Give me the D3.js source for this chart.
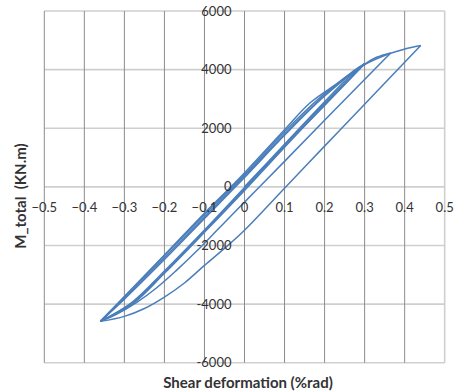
<!DOCTYPE html>
<html>
<head>
<meta charset="utf-8">
<script src="https://cdn.jsdelivr.net/npm/d3@7"></script>
<style>
  body { margin: 0; background: #fff; }
  text { font-family: Lato, "Liberation Sans", sans-serif; }
</style>
</head>
<body>
<div id="chart"></div>
<script>
// Tick labels
var xTicks = [-0.5, -0.4, -0.3, -0.2, -0.1, 0, 0.1, 0.2, 0.3, 0.4, 0.5];
var yTicks = [-6000, -4000, -2000, 0, 2000, 4000, 6000];

// Hysteresis branches, [shear deformation %rad, M_total kN.m]
var load0 = [[0, 0], [0.1, 1450], [0.2, 2900], [0.25, 3600], [0.30, 4200]];
var unload1 = [[0.30, 4200], [0.25, 3500], [0.2, 2800], [0.1, 1350], [0, -120], [-0.1, -1550], [-0.2, -2950], [-0.28, -4000], [-0.36, -4590]];
var load1 = [[-0.36, -4590], [-0.3, -3800], [-0.2, -2420], [-0.1, -1030], [0, 370], [0.1, 1800], [0.2, 3120], [0.25, 3700], [0.30, 4200]];
var unload2 = [[0.30, 4200], [0.2, 2850], [0.1, 1430], [0, -20], [-0.1, -1470], [-0.2, -2870], [-0.28, -3930], [-0.36, -4590]];
var load2 = [[-0.36, -4590], [-0.3, -3740], [-0.211, -2480], [-0.1, -900], [-0.016, 250], [0.1, 1950], [0.164, 2870], [0.239, 3600], [0.277, 4000], [0.30, 4200]];
var unload3 = [[0.30, 4200], [0.2, 2780], [0.1, 1380], [0, -70], [-0.1, -1510], [-0.2, -2920], [-0.28, -3960], [-0.36, -4590]];
var load3 = [[-0.36, -4590], [-0.3, -3830], [-0.2, -2480], [-0.1, -1080], [0, 320], [0.1, 1760], [0.2, 3100], [0.30, 4180], [0.33, 4420], [0.365, 4570]];
var unload4 = [[0.365, 4570], [0.2, 2270], [0.1, 870], [0.031, -90], [-0.02, -800], [-0.07, -1500], [-0.12, -2200], [-0.17, -2850], [-0.22, -3450], [-0.27, -3950], [-0.32, -4350], [-0.36, -4590]];
var load4 = [[-0.36, -4590], [-0.3, -3760], [-0.2, -2350], [-0.1, -950], [0, 420], [0.1, 1880], [0.2, 3180], [0.30, 4170], [0.365, 4560], [0.40, 4700], [0.44, 4820]];
var unload5 = [[0.44, 4820], [0.3, 2820], [0.2, 1390], [0.097, -90], [0, -1480], [-0.05, -2100], [-0.1, -2680], [-0.15, -3280], [-0.2, -3760], [-0.25, -4150], [-0.3, -4420], [-0.36, -4590]];

var branches = [load0, unload1, load1, unload2, load2, unload3, load3, unload4, load4, unload5];

var width = 454, height = 392;
var plotLeft = 44.3, plotRight = 444.7, plotTop = 11, plotBottom = 362.7;

var svg = d3.select("#chart").append("svg")
    .attr("width", width)
    .attr("height", height);

var x = d3.scaleLinear().domain([-0.5, 0.5]).range([plotLeft, plotRight]);
var y = d3.scaleLinear().domain([-6000, 6000]).range([plotBottom, plotTop]);

// horizontal gridlines (light)
svg.selectAll(".hgrid")
    .data(yTicks)
    .enter().append("line")
    .attr("x1", plotLeft).attr("x2", plotRight)
    .attr("y1", function(d) { return y(d); })
    .attr("y2", function(d) { return y(d); })
    .attr("stroke", "#cfcfcf")
    .attr("stroke-width", 1.6);

// right border
svg.append("line")
    .attr("x1", plotRight).attr("x2", plotRight)
    .attr("y1", plotTop).attr("y2", plotBottom)
    .attr("stroke", "#cfcfcf")
    .attr("stroke-width", 1.6);

// vertical gridlines (darker)
svg.selectAll(".vgrid")
    .data(xTicks.slice(0, -1))
    .enter().append("line")
    .attr("x1", function(d) { return x(d); })
    .attr("x2", function(d) { return x(d); })
    .attr("y1", plotTop).attr("y2", plotBottom)
    .attr("stroke", "#8c8c8c")
    .attr("stroke-width", 1);

// curves
var line = d3.line()
    .x(function(d) { return x(d[0]); })
    .y(function(d) { return y(d[1]); })
    .curve(d3.curveCatmullRom.alpha(0.5));

svg.selectAll(".branch")
    .data(branches)
    .enter().append("path")
    .attr("d", line)
    .attr("fill", "none")
    .attr("stroke", "#4a7ebb")
    .attr("stroke-width", 1.5)
    .attr("stroke-linejoin", "round");

// x tick labels on the zero line
svg.selectAll(".xlab")
    .data(xTicks)
    .enter().append("text")
    .attr("x", function(d) { return x(d); })
    .attr("y", y(0) + 25)
    .attr("text-anchor", "middle")
    .attr("font-size", 13)
    .attr("fill", "#333")
    .text(function(d) { return d3.format("")(d); });

// y tick labels left of the zero axis
svg.selectAll(".ylab")
    .data(yTicks)
    .enter().append("text")
    .attr("x", x(0) - 13)
    .attr("y", function(d) { return y(d); })
    .attr("dy", "0.35em")
    .attr("text-anchor", "end")
    .attr("font-size", 13)
    .attr("fill", "#333")
    .text(function(d) { return d; });

// axis titles
svg.append("text")
    .attr("x", 248)
    .attr("y", 388)
    .attr("text-anchor", "middle")
    .attr("font-size", 15)
    .attr("font-weight", "bold")
    .attr("fill", "#333")
    .text("Shear deformation (%rad)");

svg.append("text")
    .attr("transform", "translate(26,196) rotate(-90)")
    .attr("text-anchor", "middle")
    .attr("font-size", 15)
    .attr("font-weight", "bold")
    .attr("fill", "#333")
    .style("white-space", "pre")
    .text("M_total  (KN.m)");
</script>
</body>
</html>
